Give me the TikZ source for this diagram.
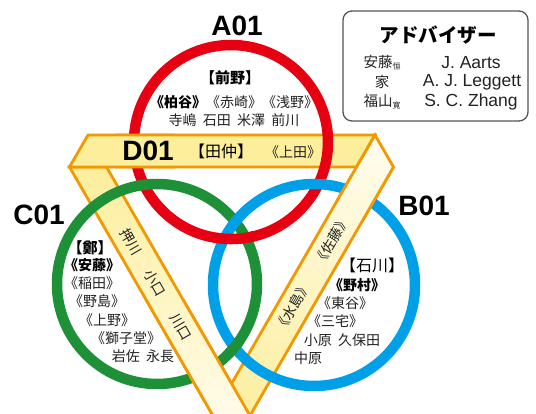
\documentclass[tikz,border=0pt]{standalone}
\usepackage{fontspec}
\setmainfont{Liberation Sans}
\newfontfamily\jp{Noto Sans CJK JP}
\newfontfamily\lsans{Liberation Sans}
\definecolor{bandor}{HTML}{F39800}
\definecolor{ringred}{HTML}{E60012}
\definecolor{ringgreen}{HTML}{1D9038}
\definecolor{ringblue}{HTML}{00A0E9}
\definecolor{byel}{HTML}{FDEE9C}
\definecolor{bpale}{HTML}{FFFDF0}
\definecolor{txt}{HTML}{222222}
\definecolor{boxgray}{HTML}{555555}
\newcommand{\nsp}{\hspace{0.45em}}
\tikzset{
  band/.style={draw=bandor, line width=2.8pt, line join=miter},
  topbandp/.style={top color=byel, middle color=bpale, bottom color=byel,
    insert path={(88,135) -- (375,135) -- (356.5,167) -- (69.5,167) -- cycle}},
  leftbandp/.style={top color=byel, bottom color=bpale,
    insert path={(69.5,167) -- (106.5,167) -- (264.1,440) -- (227,440) -- cycle}},
  rightbandp/.style={top color=bpale, bottom color=byel,
    insert path={(375,135) -- (393.5,167) -- (247.5,420) -- (210.6,420) -- cycle}},
  ring/.style={line width=10.5pt},
  code/.style={font=\lsans\bfseries\fontsize{28}{28}\selectfont, inner sep=0pt},
  lead/.style={font=\jp\bfseries\fontsize{15}{16}\selectfont, text=black, inner sep=0pt},
  leadn/.style={font=\jp\fontsize{16}{17}\selectfont, text=black, inner sep=0pt},
  nm/.style={font=\jp\fontsize{14}{15}\selectfont, text=txt, inner sep=0pt},
  nmb/.style={font=\jp\bfseries\fontsize{14}{15}\selectfont, text=black, inner sep=0pt},
  advj/.style={font=\jp\fontsize{14.5}{15}\selectfont, text=txt, inner sep=0pt},
  advl/.style={font=\lsans\fontsize{17.5}{18}\selectfont, text=txt, inner sep=0pt},
}
\begin{document}
\begin{tikzpicture}[x=1pt,y=-1pt]
\useasboundingbox (0,0) rectangle (536,414);
\clip (0,0) rectangle (536,414);

% Penrose-like bands
\path[band, leftbandp];
\path[band, topbandp];
\path[band, rightbandp];

% rings
\draw[ring, ringred] (231,142) circle[radius=97];
\draw[ring, ringgreen] (157,284) circle[radius=100];
\draw[ring, ringblue] (314,285) circle[radius=101];

% ring crossings
\begin{scope}
  \clip (245.7,237.9) circle[radius=10];
  \draw[ring, ringred] (231,142) circle[radius=97];
\end{scope}
\begin{scope}
  \clip (224.3,238.8) circle[radius=10];
  \draw[ring, ringred] (231,142) circle[radius=97];
\end{scope}
\begin{scope}
  \clip (234.5,347.3) circle[radius=10];
  \draw[ring, ringgreen] (157,284) circle[radius=100];
\end{scope}

% bands over rings
\begin{scope}
  \clip (0,300) rectangle (536,414);
  \path[band, leftbandp];
\end{scope}
\begin{scope}
  \clip (115,125) rectangle (175,171);
  \path[band, topbandp];
\end{scope}
\begin{scope}
  \clip (336,175) rectangle (400,220);
  \path[band, rightbandp];
\end{scope}

% codes
\node[code] (A) at (237,26) {A01};
\node[code] (B) at (424,206) {B01};
\node[code] (C) at (39,215) {C01};
\node[code] (D) at (148,151) {D01};

% A01
\node[lead] (a0) at (230,78) {【前野】};
\node[nm] (a1) at (234,102) {{\bfseries\color{black}《柏谷》}《赤崎》《浅野》};
\node[nm] (a2) at (234,120) {寺嶋\nsp 石田\nsp 米澤\nsp 前川};

% D01
\node[leadn] (d0) at (221,151) {【田仲】};
\node[nm] (d1) at (293,152) {《上田》};

% C01
\node[lead] (c0) at (90,248) {【鄭】};
\node[nmb] (c1) at (92,265) {《安藤》};
\node[nm] (c2) at (92,283) {《稲田》};
\node[nm] (c3) at (97,301) {《野島》};
\node[nm] (c4) at (107,320) {《上野》};
\node[nm] (c5) at (126,338) {《獅子堂》};
\node[nm] (c6) at (143,356) {岩佐\nsp 永長};

% B01
\node[leadn] (b0) at (372,265) {【石川】};
\node[nmb] (b1) at (357,285) {《野村》};
\node[nm] (b2) at (345,303) {《東谷》};
\node[nm] (b3) at (335,321) {《三宅》};
\node[nm] (b4) at (342,340) {小原\nsp 久保田};
\node[nm] (b5) at (308,358) {中原};

% band texts
\node[nm, rotate=-60] (l1) at (131,242) {押川};
\node[nm, rotate=-60] (l2) at (155,283) {小口};
\node[nm, rotate=-60] (l3) at (181,327) {川口};
\node[nm, rotate=60] (r1) at (332,241) {《佐藤》};
\node[nm, rotate=60] (r2) at (293,307) {《水島》};

% advisor box
\draw[boxgray, line width=1.3pt, rounded corners=9pt] (343,11) rectangle (528,121);
\node[font=\jp\bfseries\fontsize{19.5}{20}\selectfont, inner sep=0pt] (t) at (438,35) {アドバイザー};
\node[advj] (j1) at (382,63) {安藤\raisebox{-2pt}{\fontsize{8}{8}\selectfont 恒}};
\node[advj] (j2) at (382,82) {家};
\node[advj] (j3) at (382,102) {福山\raisebox{-2pt}{\fontsize{8}{8}\selectfont 寛}};
\node[advl] (e1) at (471,63) {J. Aarts};
\node[advl] (e2) at (472,82) {A. J. Leggett};
\node[advl] (e3) at (471,102) {S. C. Zhang};
\end{tikzpicture}
\end{document}
